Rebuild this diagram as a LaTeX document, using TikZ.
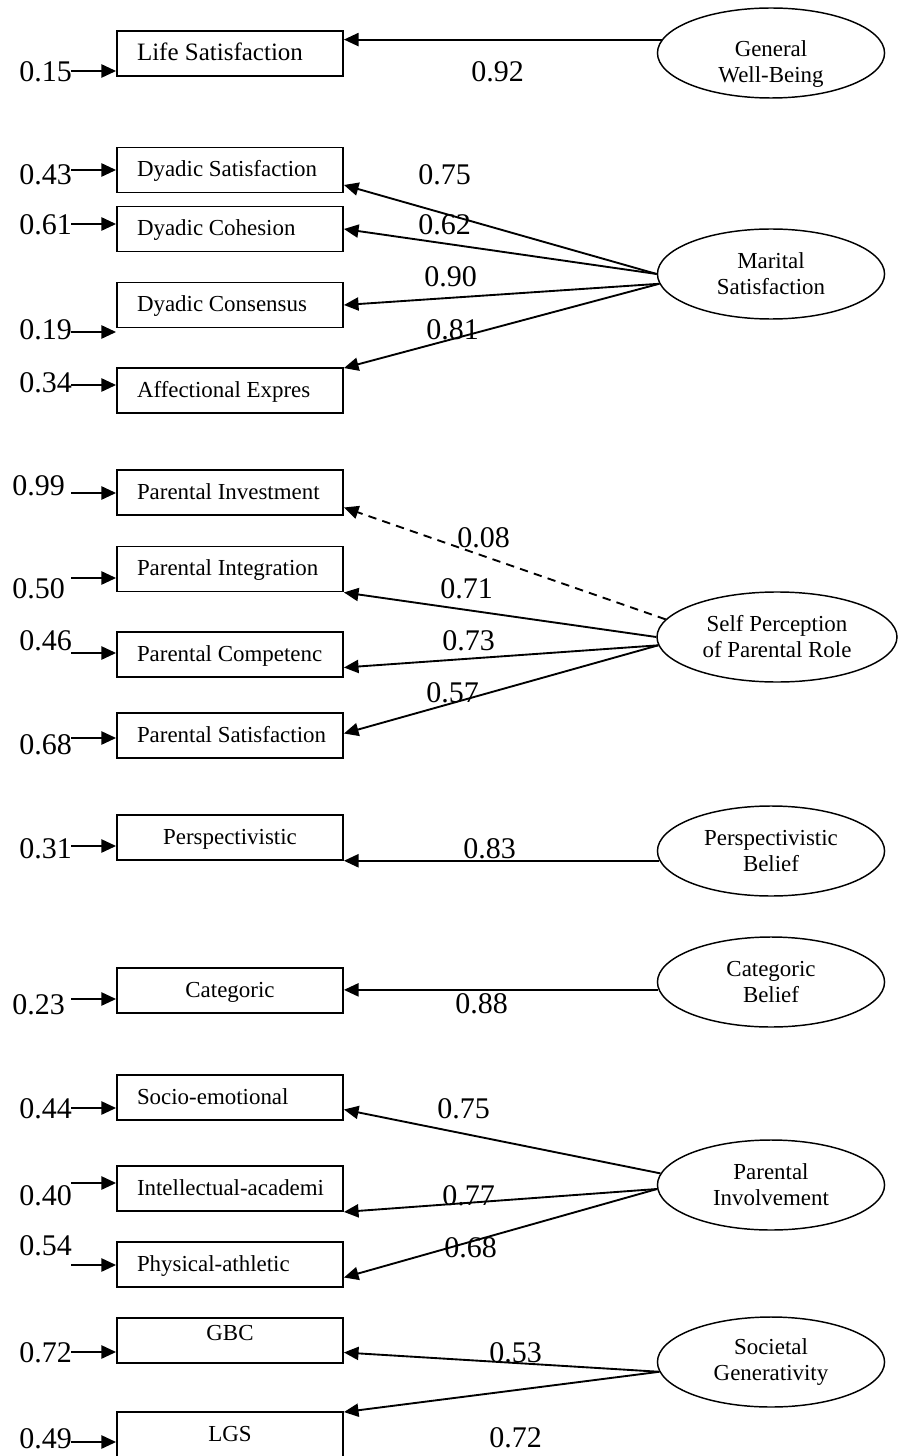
\documentclass[tikz,border=0pt]{standalone}
\usepackage{fontspec}
\setmainfont{Liberation Serif}
\usetikzlibrary{arrows.meta,shapes.geometric,calc}
% left-aligned label inside an indicator box
\newcommand\lbx[1]{\makebox[89.28pt][l]{#1}}
\begin{document}
\begin{tikzpicture}[x=0.48pt,y=-0.48pt,
  obs/.style={draw, line width=0.9pt, rectangle, inner xsep=9.6pt, inner ysep=0pt,
    minimum width=108.48pt, minimum height=21.6pt,
    text height=0.66em, text depth=0pt, font=\fontsize{11}{13}\selectfont},
  lat/.style={draw, ellipse, line width=0.7pt, minimum width=109pt, minimum height=43.2pt,
    inner sep=0pt, align=center, font=\fontsize{11}{12.5}\selectfont},
  lattext/.style={inner sep=0pt, align=center, font=\fontsize{11}{12.5}\selectfont},
  num/.style={anchor=base west, inner sep=0pt, font=\fontsize{14.4}{17}\selectfont},
  arr/.style={line width=0.9pt, -{Triangle[length=7pt,width=6.3pt]}},
  darr/.style={arr, dash pattern=on 4pt off 3pt}]
\useasboundingbox (0,0) rectangle (897,1456);

% ---------- General well-being ----------
\node[obs, font=\fontsize{12}{14}\selectfont] (ls) at (230,53.5) {\lbx{Life Satisfaction}};
\node[lat] (gwb) at (771,53) {};
\node[lattext] (gwbt) at ($(gwb.center)+(0,11)$) {General\\Well-Being};
\draw[arr] (gwb.173) -- (gwb.173 -| ls.east);
\node[num] (l92) at (471,82) {0.92};

% ---------- Marital satisfaction ----------
\node[obs] (ds)  at (230,170)   {\lbx{Dyadic Satisfaction}};
\node[obs] (dc)  at (230,229)   {\lbx{Dyadic Cohesion}};
\node[obs] (dcs) at (230,305)   {\lbx{Dyadic Consensus}};
\node[obs] (ae)  at (230,390.5) {\lbx{Affectional Expres}};
\node[lat] (ms) at (771,274) {Marital\\Satisfaction};
\draw[arr] (ms.180) -- ($(ds.east)+(0,15)$);
\draw[arr] (ms.180) -- (dc.east);
\draw[arr] (ms.185) -- (dcs.east);
\draw[arr] (ms.185) -- ($(ae.north east)+(0,1)$);
\node[num] (l75a) at (418,185) {0.75};
\node[num] (l62)  at (418,235) {0.62};
\node[num] (l90)  at (424,287) {0.90};
\node[num] (l81)  at (426,339) {0.81};

% ---------- Self perception of parental role ----------
\node[obs] (pin) at (230,492.5) {\lbx{Parental Investment}};
\node[obs] (pig) at (230,569)   {\lbx{Parental Integration}};
\node[obs] (pco) at (230,654.5) {\lbx{Parental Competenc}};
\node[obs] (psa) at (230,735.5) {\lbx{Parental Satisfaction}};
\node[lat, minimum width=115.2pt] (spr) at (777,637) {Self Perception\\of Parental Role};
\draw[darr] (spr.171) -- ($(pin.east)+(0,15)$);
\draw[arr] (spr.180) -- (pig.south east);
\draw[arr] (spr.184) -- ($(pco.east)+(0,13)$);
\draw[arr] (spr.184) -- ($(psa.east)+(0,-2)$);
\node[num] (l08) at (457,547) {0.08};
\node[num] (l71) at (440,598) {0.71};
\node[num] (l73) at (442,650) {0.73};
\node[num] (l57) at (426,702) {0.57};

% ---------- Perspectivistic belief ----------
\node[obs] (pe) at (230,837.5) {Perspectivistic};
\node[lat] (pbel) at (771,851) {Perspectivistic\\Belief};
\draw[arr] (pbel.185) -- (pbel.185 -| pe.east);
\node[num] (l83) at (463,858) {0.83};

% ---------- Categoric belief ----------
\node[obs] (ca) at (230,990.5) {Categoric};
\node[lat] (cbel) at (771,982) {Categoric\\Belief};
\draw[arr] (cbel.184) -- (cbel.184 -| ca.east);
\node[num] (l88) at (455,1013) {0.88};

% ---------- Parental involvement ----------
\node[obs] (se) at (230,1097.5) {\lbx{Socio-emotional}};
\node[obs] (ia) at (230,1188.5) {\lbx{Intellectual-academi}};
\node[obs] (pa) at (230,1264.5) {\lbx{Physical-athletic}};
\node[lat] (pinv) at (771,1185) {Parental\\Involvement};
\draw[arr] (pinv.174) -- ($(se.east)+(0,12)$);
\draw[arr] (pinv.182) -- (ia.south east);
\draw[arr] (pinv.182) -- ($(pa.east)+(0,13)$);
\node[num] (l75b) at (437,1118) {0.75};
\node[num] (l77)  at (442,1205) {0.77};
\node[num] (l68)  at (444,1257) {0.68};

% ---------- Societal generativity ----------
\node[obs, text depth=0.66em] (gbc) at (230,1340.5) {GBC};
\node[obs] (lgs) at (230,1434.5) {LGS};
\node[lat] (sg) at (771,1362) {Societal\\Generativity};
\draw[arr] (sg.185) -- ($(gbc.east)+(0,12)$);
\draw[arr] (sg.185) -- ($(lgs.north east)+(0,1)$);
\node[num] (l53)  at (489,1362) {0.53};
\node[num] (l72b) at (489,1447) {0.72};

% ---------- Error terms ----------
\foreach \v/\tx/\ty/\ay/\bx in {
    0.15/19/82/71/ls, 0.43/19/185/170/ds, 0.61/19/235/224/dc,
    0.19/19/339/332/dcs, 0.34/19/392/385/ae,
    0.99/12/495/493/pin, 0.50/12/598/578/pig, 0.46/19/650/653/pco,
    0.68/19/754/738/psa, 0.31/19/858/846/pe, 0.23/12/1014/999/ca,
    0.44/19/1118/1108/se, 0.40/19/1205/1183/ia, 0.54/19/1255/1265/pa,
    0.72/19/1362/1352/gbc, 0.49/19/1448/1442/lgs}{
  \node[num] (e-\bx) at (\tx,\ty) {\v};
  \coordinate (s-\bx) at (71,\ay);
  \draw[arr] (s-\bx) -- (s-\bx -| \bx.west);
}
\end{tikzpicture}
\end{document}
